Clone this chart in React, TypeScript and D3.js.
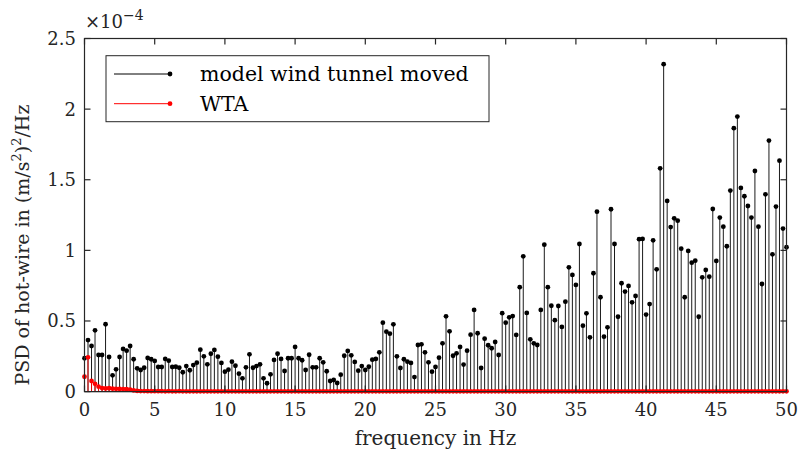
import React from "react";
import * as d3 from "d3";

// PSD values in units of 1e-4 (m/s^2)^2/Hz, one per 0.25 Hz bin from 0 to 50 Hz
const psdModel: number[] = [
  0.236, 0.365, 0.323, 0.434, 0.259, 0.259, 0.477, 0.245, 0.115, 0.158,
  0.245, 0.302, 0.290, 0.323, 0.229, 0.165, 0.153, 0.169, 0.238, 0.229,
  0.217, 0.174, 0.174, 0.231, 0.219, 0.174, 0.176, 0.169, 0.137, 0.181,
  0.151, 0.188, 0.205, 0.297, 0.250, 0.193, 0.268, 0.295, 0.247, 0.203,
  0.141, 0.155, 0.212, 0.183, 0.127, 0.094, 0.172, 0.264, 0.169, 0.181,
  0.193, 0.094, 0.059, 0.122, 0.224, 0.268, 0.231, 0.146, 0.236, 0.236,
  0.316, 0.236, 0.222, 0.153, 0.261, 0.172, 0.172, 0.236, 0.207, 0.144,
  0.075, 0.082, 0.061, 0.120, 0.254, 0.288, 0.257, 0.210, 0.148, 0.181,
  0.153, 0.176, 0.226, 0.231, 0.278, 0.488, 0.424, 0.410, 0.476, 0.250,
  0.167, 0.229, 0.212, 0.203, 0.103, 0.330, 0.335, 0.278, 0.207, 0.141,
  0.174, 0.240, 0.342, 0.533, 0.427, 0.254, 0.271, 0.316, 0.191, 0.290,
  0.403, 0.578, 0.413, 0.167, 0.375, 0.328, 0.307, 0.351, 0.259, 0.555,
  0.488, 0.526, 0.535, 0.401, 0.739, 0.958, 0.557, 0.370, 0.342, 0.330,
  0.578, 1.040, 0.739, 0.608, 0.506, 0.606, 0.458, 0.637, 0.880, 0.826,
  0.755, 1.045, 0.467, 0.554, 0.384, 0.838, 1.274, 0.668, 0.389, 0.455,
  1.291, 1.045, 0.530, 0.767, 0.708, 0.748, 0.632, 0.677, 1.079, 1.081,
  0.545, 0.620, 1.071, 0.866, 1.581, 2.318, 1.350, 1.165, 1.227, 1.210,
  1.012, 0.668, 0.996, 0.913, 0.927, 0.530, 0.809, 0.861, 0.814, 1.293,
  0.925, 1.232, 1.168, 1.029, 1.423, 1.865, 1.947, 1.442, 1.383, 1.314,
  1.232, 1.562, 1.168, 0.762, 1.397, 1.777, 0.972, 1.310, 1.635, 1.154,
  1.022,
];

const psdWTA: number[] = [
  0.105, 0.243, 0.075, 0.055, 0.035, 0.025, 0.022, 0.024, 0.021, 0.020,
  0.019, 0.018, 0.017, 0.014, 0.008, 0.005, 0.004, 0.004, 0.003, 0.003,
  0.003, 0.003, 0.003, 0.002, 0.003, 0.002, 0.002, 0.003, 0.002, 0.002,
  0.002, 0.002, 0.002, 0.002, 0.002, 0.002, 0.002, 0.002, 0.002, 0.002,
  0.002, 0.002, 0.002, 0.002, 0.002, 0.002, 0.002, 0.002, 0.002, 0.002,
  0.002, 0.002, 0.002, 0.002, 0.002, 0.002, 0.002, 0.002, 0.002, 0.002,
  0.002, 0.002, 0.002, 0.002, 0.002, 0.002, 0.002, 0.002, 0.002, 0.002,
  0.002, 0.002, 0.002, 0.002, 0.002, 0.002, 0.002, 0.002, 0.002, 0.002,
  0.002, 0.002, 0.002, 0.002, 0.002, 0.002, 0.002, 0.002, 0.002, 0.002,
  0.002, 0.002, 0.002, 0.002, 0.002, 0.002, 0.002, 0.002, 0.002, 0.002,
  0.002, 0.002, 0.002, 0.002, 0.002, 0.002, 0.002, 0.002, 0.002, 0.002,
  0.002, 0.002, 0.002, 0.002, 0.002, 0.002, 0.002, 0.002, 0.002, 0.002,
  0.002, 0.002, 0.002, 0.002, 0.002, 0.002, 0.002, 0.002, 0.002, 0.002,
  0.002, 0.002, 0.002, 0.002, 0.002, 0.002, 0.002, 0.002, 0.002, 0.002,
  0.002, 0.002, 0.002, 0.002, 0.002, 0.002, 0.002, 0.002, 0.002, 0.002,
  0.002, 0.002, 0.002, 0.002, 0.002, 0.002, 0.002, 0.002, 0.002, 0.002,
  0.002, 0.002, 0.002, 0.002, 0.002, 0.002, 0.002, 0.002, 0.002, 0.002,
  0.002, 0.002, 0.002, 0.002, 0.002, 0.002, 0.002, 0.002, 0.002, 0.002,
  0.002, 0.002, 0.002, 0.002, 0.002, 0.002, 0.002, 0.002, 0.002, 0.002,
  0.002, 0.002, 0.002, 0.002, 0.002, 0.002, 0.002, 0.002, 0.002, 0.002,
  0.002,
];

const binWidth = 0.25; // Hz
const xTicks: number[] = [0, 5, 10, 15, 20, 25, 30, 35, 40, 45, 50];
const yTicks: number[] = [0, 0.5, 1, 1.5, 2, 2.5];
const yTickLabels: string[] = ["0", "0.5", "1", "1.5", "2", "2.5"];
const seriesNames: string[] = ["model wind tunnel moved", "WTA"];
const seriesColors: string[] = ["#000000", "#ff0000"];

const W = 800;
const H = 453;
const left = 84.5;
const right = 786.5;
const top = 38.5;
const bottom = 391.6;
const FONT = "'DejaVu Serif', serif";
const AX = "#262626";

export default function App() {
  const x = d3.scaleLinear().domain([0, 50]).range([left, right]);
  const y = d3.scaleLinear().domain([0, 2.5]).range([bottom, top]);
  const tickLen = 6;

  const renderStems = (vals: number[], color: string, key: string) => (
    <g key={key}>
      {vals.map((v, i) => {
        const f = i * binWidth;
        return (
          <line
            key={"s" + i}
            x1={x(f)}
            x2={x(f)}
            y1={y(0)}
            y2={y(v)}
            stroke={color}
            strokeWidth={0.9}
          />
        );
      })}
      {vals.map((v, i) => {
        const f = i * binWidth;
        return <circle key={"c" + i} cx={x(f)} cy={y(v)} r={2.4} fill={color} />;
      })}
    </g>
  );

  return (
    <svg
      width={W}
      height={H}
      style={{ position: "absolute", left: 0, top: 0, background: "#fff" }}
      fontFamily={FONT}
    >
      <rect x={0} y={0} width={W} height={H} fill="#fff" />
      {/* baseline */}
      <line x1={left} x2={right} y1={y(0)} y2={y(0)} stroke="#000" strokeWidth={1} />
      {renderStems(psdModel, seriesColors[0], "m")}
      {renderStems(psdWTA, seriesColors[1], "w")}

      {/* axes box */}
      <rect
        x={left}
        y={top}
        width={right - left}
        height={bottom - top}
        fill="none"
        stroke={AX}
        strokeWidth={1.2}
      />
      {/* x ticks */}
      {xTicks.map((t) => (
        <g key={"xt" + t}>
          <line x1={x(t)} x2={x(t)} y1={bottom} y2={bottom - tickLen} stroke={AX} strokeWidth={1.2} />
          <line x1={x(t)} x2={x(t)} y1={top} y2={top + tickLen} stroke={AX} strokeWidth={1.2} />
          <text x={x(t)} y={416} textAnchor="middle" fontSize={18} fill={AX}>
            {t}
          </text>
        </g>
      ))}
      {/* y ticks */}
      {yTicks.map((t, i) => (
        <g key={"yt" + t}>
          <line x1={left} x2={left + tickLen} y1={y(t)} y2={y(t)} stroke={AX} strokeWidth={1.2} />
          <line x1={right} x2={right - tickLen} y1={y(t)} y2={y(t)} stroke={AX} strokeWidth={1.2} />
          <text x={76} y={y(t) + 6.5} textAnchor="end" fontSize={18} fill={AX}>
            {yTickLabels[i]}
          </text>
        </g>
      ))}
      {/* exponent */}
      <text x={85} y={28} fontSize={18} fill={AX}>
        ×10
        <tspan dy={-8} fontSize={14}>−4</tspan>
      </text>

      {/* axis labels */}
      <text x={(left + right) / 2} y={445} textAnchor="middle" fontSize={20} fill={AX}>
        frequency in Hz
      </text>
      <text
        transform={`translate(29, ${(top + bottom) / 2 + 30}) rotate(-90)`}
        textAnchor="middle"
        fontSize={19}
        fill={AX}
      >
        PSD of hot-wire in (m/s
        <tspan dy={-8} fontSize={13}>2</tspan>
        <tspan dy={8}>)</tspan>
        <tspan dy={-8} fontSize={13}>2</tspan>
        <tspan dy={8}>/Hz</tspan>
      </text>

      {/* legend */}
      <rect x={106} y={55.7} width={383} height={66} fill="#fff" stroke={AX} strokeWidth={1} />
      {seriesNames.map((name, i) => {
        const ly = 74 + i * 29.7;
        return (
          <g key={"lg" + i}>
            <line x1={114} x2={170} y1={ly} y2={ly} stroke={seriesColors[i]} strokeWidth={1} />
            <circle cx={170} cy={ly} r={2.4} fill={seriesColors[i]} />
            <text x={200} y={ly + 7} fontSize={20.5} fill="#000">
              {name}
            </text>
          </g>
        );
      })}
    </svg>
  );
}
